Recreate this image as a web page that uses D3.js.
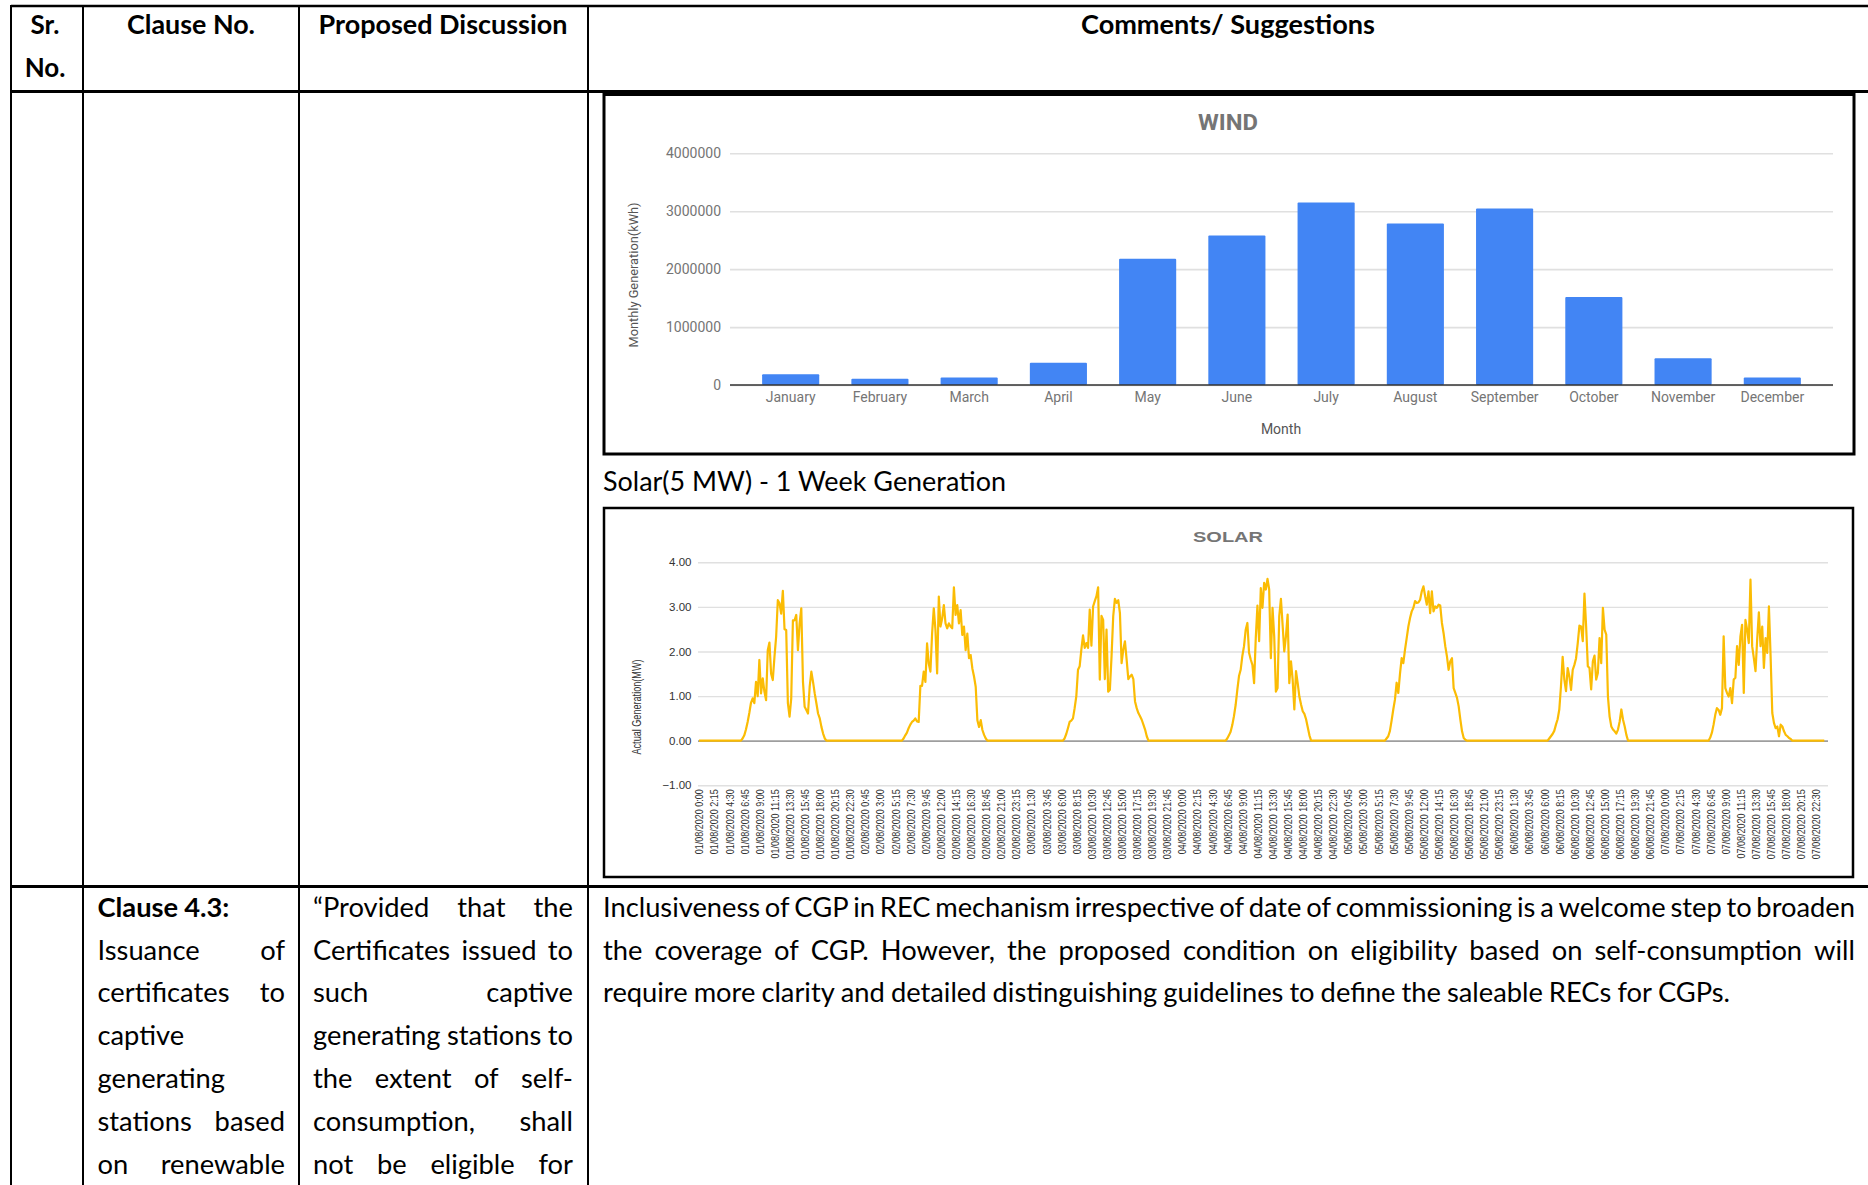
<!DOCTYPE html>
<html><head><meta charset="utf-8">
<script src="https://cdn.jsdelivr.net/npm/d3@7"></script>
<style>
html,body{margin:0;padding:0;background:#fff;}
svg{display:block;}
</style></head>
<body>
<svg id="page" width="1868" height="1185"></svg>
<script>
// ---------------- DATA ----------------
const windMonths = ["January","February","March","April","May","June","July","August","September","October","November","December"];
const windValues = [185000,110000,130000,385000,2180000,2580000,3150000,2790000,3045000,1520000,460000,130000];
const windTicks = [0,1000000,2000000,3000000,4000000];

const solarTicks = [-1,0,1,2,3,4];
const solarDates = ["01/08/2020","02/08/2020","03/08/2020","04/08/2020","05/08/2020","06/08/2020","07/08/2020"];
const timesA = ["0:00","2:15","4:30","6:45","9:00","11:15","13:30","15:45","18:00","20:15","22:30"];
const timesB = ["0:45","3:00","5:15","7:30","9:45","12:00","14:15","16:30","18:45","21:00","23:15"];
const timesC = ["1:30","3:45","6:00","8:15","10:30","12:45","15:00","17:15","19:30","21:45"];
const dayTickTimes = [timesA,timesB,timesC,timesA,timesB,timesC,timesA];

// 15-minute readings (MW); night-time readings are 0. sunrise slot = index of first daytime reading in the week.
const solarDay1 = [0,0.05,0.12,0.25,0.42,0.62,0.85,0.95,0.84,1.32,1.0,1.81,1.06,1.4,1.1,0.91,2.03,2.2,1.5,1.36,1.88,2.33,3.15,3.08,2.85,3.36,2.5,2.48,0.84,0.54,0.95,2.7,2.7,2.82,2.03,2.63,2.97,1.32,0.76,0.69,0.61,1.21,1.55,1.32,1.06,0.84,0.61,0.5,0.31,0.16,0.05,0];
const solarDay2 = [0,0.05,0.12,0.18,0.28,0.36,0.42,0.45,0.5,0.43,0.42,1.23,1.23,1.55,1.32,2.18,1.73,1.55,2.4,2.97,2.48,1.51,3.23,2.56,2.74,3.04,2.63,2.52,2.63,2.56,2.52,3.44,2.82,3.04,2.63,2.93,2.37,2.56,2.03,2.4,1.85,1.92,1.62,1.44,1.21,0.46,0.31,0.46,0.24,0.13,0.05,0];
const solarDay3 = [0,0.05,0.15,0.28,0.42,0.45,0.5,0.73,1.0,1.59,1.67,2.04,2.36,2.08,2.19,2.08,2.94,2.13,3.01,3.13,3.24,3.44,1.37,2.8,2.71,1.38,2.49,1.1,1.14,1.89,2.79,3.18,3.09,3.15,2.86,1.74,2.04,2.23,1.82,1.38,1.44,1.48,1.38,0.88,0.73,0.62,0.55,0.47,0.36,0.25,0.1,0];
const solarDay4 = [0,0.05,0.12,0.2,0.35,0.55,0.8,1.14,1.45,1.59,1.9,2.12,2.49,2.64,1.97,1.82,1.7,1.29,2.3,3.03,2.23,3.42,2.98,3.54,3.39,3.63,3.39,1.85,2.98,2.34,1.1,1.18,2.79,3.18,2.6,2.0,2.34,2.83,1.29,1.78,1.37,0.7,1.56,1.29,0.99,0.81,0.66,0.6,0.48,0.3,0.12,0];
const solarDay5 = [0,0.05,0.1,0.22,0.45,0.7,0.92,1.3,1.07,1.5,1.85,1.74,2.04,2.3,2.56,2.75,2.9,2.98,3.13,3.09,3.1,3.16,3.35,3.46,3.24,3.05,3.35,2.86,3.35,2.9,3.01,2.98,3.05,3.03,2.64,2.41,2.12,1.89,1.59,1.78,1.85,1.18,1.07,0.96,0.77,0.47,0.21,0.06,0.02,0];
const solarDay6 = [0,0.05,0.1,0.15,0.22,0.36,0.48,0.7,1.22,1.88,1.37,1.11,1.63,1.44,1.14,1.59,1.7,1.85,2.19,2.58,2.56,2.23,3.3,2.56,1.67,1.63,1.15,1.78,1.91,1.37,1.52,2.3,1.74,2.98,2.49,2.38,0.99,0.54,0.32,0.25,0.21,0.16,0.25,0.43,0.7,0.47,0.32,0.13,0];
const solarDay7 = [0,0.07,0.18,0.36,0.58,0.73,0.69,0.58,0.73,2.34,1.18,1.07,0.99,1.18,0.84,1.37,1.41,2.12,1.7,2.34,2.6,1.07,2.71,2.49,2.19,3.61,2.12,1.85,1.56,2.27,2.88,2.12,2.56,1.63,2.3,1.97,3.01,1.89,0.62,0.4,0.28,0.32,0.1,0.36,0.32,0.21,0.13,0.1,0.06,0.04,0];
const solarSunriseSlots = [25,121,217,314,409,506,602];
const SLOTS = 672;

// ---------------- PAGE ----------------
const svg = d3.select("#page");
const BODY = "Lato, 'Open Sans', sans-serif";
const BODY_SIZE = "26px";
const WIDTH_SCALE = 1.05;

// solar series (night readings are zero)
const solarDays = [solarDay1,solarDay2,solarDay3,solarDay4,solarDay5,solarDay6,solarDay7];
const solarSeries = new Array(SLOTS).fill(0);
solarDays.forEach((arr,d)=>arr.forEach((v,k)=>{ solarSeries[solarSunriseSlots[d]+k] = v; }));
const solarTickLabels = [];
dayTickTimes.forEach((ts,d)=>ts.forEach(t=>solarTickLabels.push(solarDates[d]+" "+t)));

// ---- table grid ----
const grid = svg.append("g").attr("stroke","#000");
grid.append("line").attr("x1",11).attr("x2",1868).attr("y1",6).attr("y2",6).attr("stroke-width",2.5);
grid.append("line").attr("x1",11).attr("x2",1868).attr("y1",91.5).attr("y2",91.5).attr("stroke-width",3);
grid.append("line").attr("x1",11).attr("x2",1868).attr("y1",886.5).attr("y2",886.5).attr("stroke-width",3);
[11,83,299,588].forEach(x=>grid.append("line").attr("x1",x).attr("x2",x).attr("y1",5).attr("y2",1185).attr("stroke-width",2));

// ---- headers ----
function hdr(t,x,y,len){
  const el = svg.append("text").attr("x",x).attr("y",y).attr("text-anchor","middle")
    .style("font-family",BODY).style("font-weight","700").style("font-size",BODY_SIZE).text(t);
  if(len) el.attr("textLength",len).attr("lengthAdjust","spacingAndGlyphs");
  return el;
}
hdr("Sr.",45,34);
hdr("No.",45,77);
hdr("Clause No.",191,34,128);
hdr("Proposed Discussion",443,34,249);
hdr("Comments/ Suggestions",1228,34,294);

// ---- body text with justification ----
function placeLine(text,x0,x1,y,justify,bold){
  const g = svg.append("g");
  const words = text.split(" ");
  const nodes = words.map(w=>g.append("text").attr("y",y)
      .style("font-family",BODY).style("font-size",BODY_SIZE).style("font-weight",bold?"700":"400").text(w));
  const widths = nodes.map(n=>n.node().getComputedTextLength()*WIDTH_SCALE);
  const W = d3.sum(widths);
  const avail = x1-x0;
  let gap = 6.0, scale = 1;
  if(justify && words.length>1){
    gap = (avail-W)/(words.length-1);
    if(gap<4.5){ gap=4.5; scale = (avail-gap*(words.length-1))/W; }
  }
  let x = x0;
  nodes.forEach((n,i)=>{
    n.attr("x",x).attr("textLength",widths[i]*scale).attr("lengthAdjust","spacingAndGlyphs");
    x += widths[i]*scale + gap;
  });
}
const base0 = 916.7, lh = 42.8;
const col2 = [["Clause 4.3:",false,true],["Issuance of",true],["certificates to",true],["captive",false],["generating",false],["stations based",true],["on renewable",true]];
col2.forEach((l,i)=>placeLine(l[0],97.5,285,base0+i*lh,l[1],l[2]));
const col3 = ["\u201CProvided that the","Certificates issued to","such captive","generating stations to","the extent of self-","consumption, shall","not be eligible for"];
col3.forEach((l,i)=>placeLine(l,313,573,base0+i*lh,true,false));
const col4 = [["Inclusiveness of CGP in REC mechanism irrespective of date of commissioning is a welcome step to broaden",true],
  ["the coverage of CGP. However, the proposed condition on eligibility based on self-consumption will",true],
  ["require more clarity and detailed distinguishing guidelines to define the saleable RECs for CGPs.",false]];
col4.forEach((l,i)=>placeLine(l[0],603,1855,base0+i*lh,l[1],false));

svg.append("text").attr("x",603).attr("y",491).style("font-family",BODY).style("font-size",BODY_SIZE)
  .attr("textLength",403).attr("lengthAdjust","spacingAndGlyphs").text("Solar(5 MW) - 1 Week Generation");

// ---------------- WIND CHART ----------------
const wind = svg.append("g");
wind.append("rect").attr("x",604).attr("y",94.5).attr("width",1250).attr("height",359.5)
  .attr("fill","#fff").attr("stroke","#000").attr("stroke-width",3);
const wx = d3.scaleBand().domain(windMonths).range([730,1833]).paddingInner(0.36).paddingOuter(0.36);
const wy = d3.scaleLinear().domain([0,4000000]).range([385,153.3]);
const ROBOTO = "Roboto, 'Liberation Sans', sans-serif";

wind.append("g").attr("transform","translate(730,0)")
  .call(d3.axisLeft(wy).tickValues(windTicks).tickSize(-(1833-730)).tickFormat(""))
  .call(g=>g.select(".domain").remove())
  .call(g=>g.selectAll(".tick line").attr("stroke","#e0e0e0").attr("stroke-width",1.6));
wind.append("g").attr("transform","translate(730,0)")
  .call(d3.axisLeft(wy).tickValues(windTicks).tickSize(0).tickPadding(9).tickFormat(d3.format("d")))
  .call(g=>g.select(".domain").remove())
  .call(g=>g.selectAll("text").style("font-family",ROBOTO).style("font-size","14px").attr("fill","#757575"));

wind.append("g").selectAll("rect").data(windValues).join("rect")
  .attr("x",(d,i)=>wx(windMonths[i])).attr("width",wx.bandwidth())
  .attr("y",d=>wy(d)).attr("height",d=>wy(0)-wy(d))
  .attr("fill","#4285f4").attr("rx",1);

wind.append("g").attr("transform",`translate(0,${wy(0)})`)
  .call(d3.axisBottom(wx).tickSize(0).tickPadding(7))
  .call(g=>g.select(".domain").attr("d","M730,0H1833").attr("stroke","#333").attr("stroke-width",1.6))
  .call(g=>g.selectAll("text").style("font-family",ROBOTO).style("font-size","14px").attr("fill","#757575"));

wind.append("text").attr("x",1228).attr("y",130).attr("text-anchor","middle")
  .style("font-family",ROBOTO).style("font-weight","700").style("font-size","22px").attr("fill","#757575")
  .attr("textLength",60).attr("lengthAdjust","spacingAndGlyphs").text("WIND");
wind.append("text").attr("x",1281).attr("y",434).attr("text-anchor","middle")
  .style("font-family",ROBOTO).style("font-size","14px").attr("fill","#555").text("Month");
wind.append("text").attr("transform","translate(638,275) rotate(-90)").attr("text-anchor","middle")
  .style("font-family",ROBOTO).style("font-size","13px").attr("fill","#555")
  .attr("textLength",145).attr("lengthAdjust","spacingAndGlyphs").text("Monthly Generation(kWh)");

// ---------------- SOLAR CHART ----------------
const solar = svg.append("g");
solar.append("rect").attr("x",604).attr("y",508).attr("width",1249).attr("height",369)
  .attr("fill","#fff").attr("stroke","#000").attr("stroke-width",2.5);
const ARIAL = "'Liberation Sans', Arial, sans-serif";
const sx = d3.scaleLinear().domain([0,SLOTS-1]).range([699,699+1.677*(SLOTS-1)]);
const sy = d3.scaleLinear().domain([-1,4]).range([785.3,562.3]);

solar.append("g").attr("transform","translate(698,0)")
  .call(d3.axisLeft(sy).tickValues(solarTicks).tickSize(-(1828-698)).tickFormat(""))
  .call(g=>g.select(".domain").remove())
  .call(g=>g.selectAll(".tick line").attr("stroke",d=>d===0?"#9e9e9e":"#e0e0e0").attr("stroke-width",d=>d===0?1.8:1.4));
solar.append("g").attr("transform","translate(698,0)")
  .call(d3.axisLeft(sy).tickValues(solarTicks).tickSize(0).tickPadding(6.5).tickFormat(d3.format(".2f")))
  .call(g=>g.select(".domain").remove())
  .call(g=>g.selectAll("text").style("font-family",ARIAL).style("font-size","11.5px").attr("fill","#333"));

solar.append("path").datum(solarSeries)
  .attr("d",d3.line().x((d,i)=>sx(i)).y(d=>sy(d)))
  .attr("fill","none").attr("stroke","#fbbc04").attr("stroke-width",2.2).attr("stroke-linejoin","round");

const tickSlots = solarTickLabels.map((t,k)=>k*9);
solar.append("g").attr("transform",`translate(0,${sy(-1)})`)
  .call(d3.axisBottom(sx).tickValues(tickSlots).tickSize(0).tickFormat((d,k)=>solarTickLabels[k]))
  .call(g=>g.select(".domain").remove())
  .call(g=>g.selectAll("text").attr("transform","rotate(-90) scale(1,1.3)").attr("text-anchor","end")
      .attr("x",-4).attr("y",0).attr("dy","0.33em")
      .style("font-family",ARIAL).style("font-size","9px").attr("fill","#333"));

solar.append("text").attr("x",1228).attr("y",542).attr("text-anchor","middle")
  .style("font-family",ARIAL).style("font-weight","700").style("font-size","15px").attr("fill","#757575")
  .attr("textLength",70).attr("lengthAdjust","spacingAndGlyphs").text("SOLAR");
solar.append("text").attr("transform","translate(641,707) rotate(-90) scale(1,1.25)").attr("text-anchor","middle")
  .style("font-family",ARIAL).style("font-size","9.5px").attr("fill","#333")
  .attr("textLength",95).attr("lengthAdjust","spacingAndGlyphs").text("Actual Generation(MW)");
</script>
</body></html>
